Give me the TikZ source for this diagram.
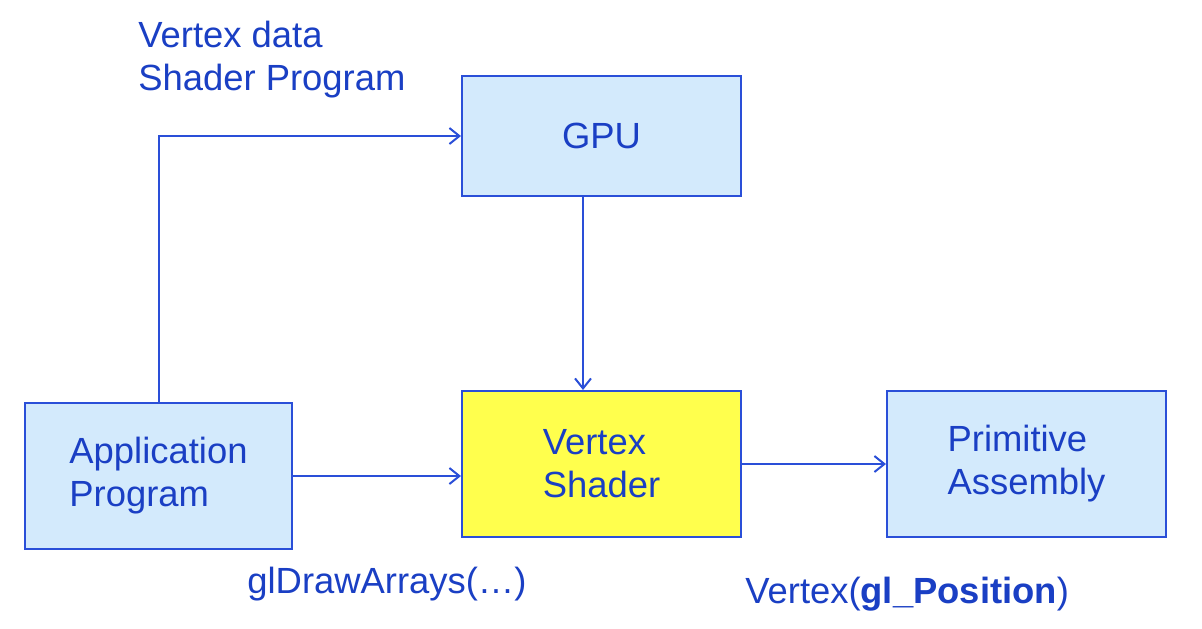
\documentclass[tikz,border=0pt]{standalone}
\usepackage{fontspec}
\setmainfont{Liberation Sans}
\usetikzlibrary{arrows.meta}
\definecolor{txtblue}{HTML}{1A3FC4}
\definecolor{lineblue}{HTML}{2A4FD8}
\definecolor{boxblue}{HTML}{D3EAFC}
\definecolor{shaderyellow}{HTML}{FFFF4D}
\tikzset{
  stage/.style={draw=lineblue,line width=1pt,fill=boxblue,align=left,
    text=txtblue,minimum width=139.5pt,minimum height=73pt,inner sep=0pt},
  note/.style={text=txtblue,inner sep=0pt,align=left}
}
\begin{document}
\begin{tikzpicture}[x=0.5pt,y=-0.5pt,>={Straight Barb[length=5pt,width=8pt]},
  font=\fontsize{18.2}{21.5}\selectfont]
\useasboundingbox[fill=white](0,0) rectangle (1202,628);
\node[stage,minimum height=60pt](gpu) at (601.5,136){GPU};
\node[stage,fill=shaderyellow](vs) at (601.5,464){Vertex\\Shader};
\node[stage,minimum width=133.5pt](app) at (158.5,476){Application\\Program};
\node[stage](pa) at (1026.5,464){Primitive\\Assembly};

\draw[->,lineblue,line width=1pt](app.north)--(app.north|-gpu.west)--(gpu.west);
\draw[->,lineblue,line width=1pt]([xshift=-9.25pt]gpu.south)--([xshift=-9.25pt]vs.north);
\draw[->,lineblue,line width=1pt](app.east)--(app.east-|vs.west);
\draw[->,lineblue,line width=1pt](vs.east)--(pa.west);

\node[note,anchor=base west](data) at (138,90){Vertex data\\Shader Program};
\node[note,anchor=base west](draw) at (247,593){glDrawArrays(…)};
\node[note,anchor=base west](pos) at (745,603){Vertex(\textbf{gl\_Position})};
\end{tikzpicture}
\end{document}
